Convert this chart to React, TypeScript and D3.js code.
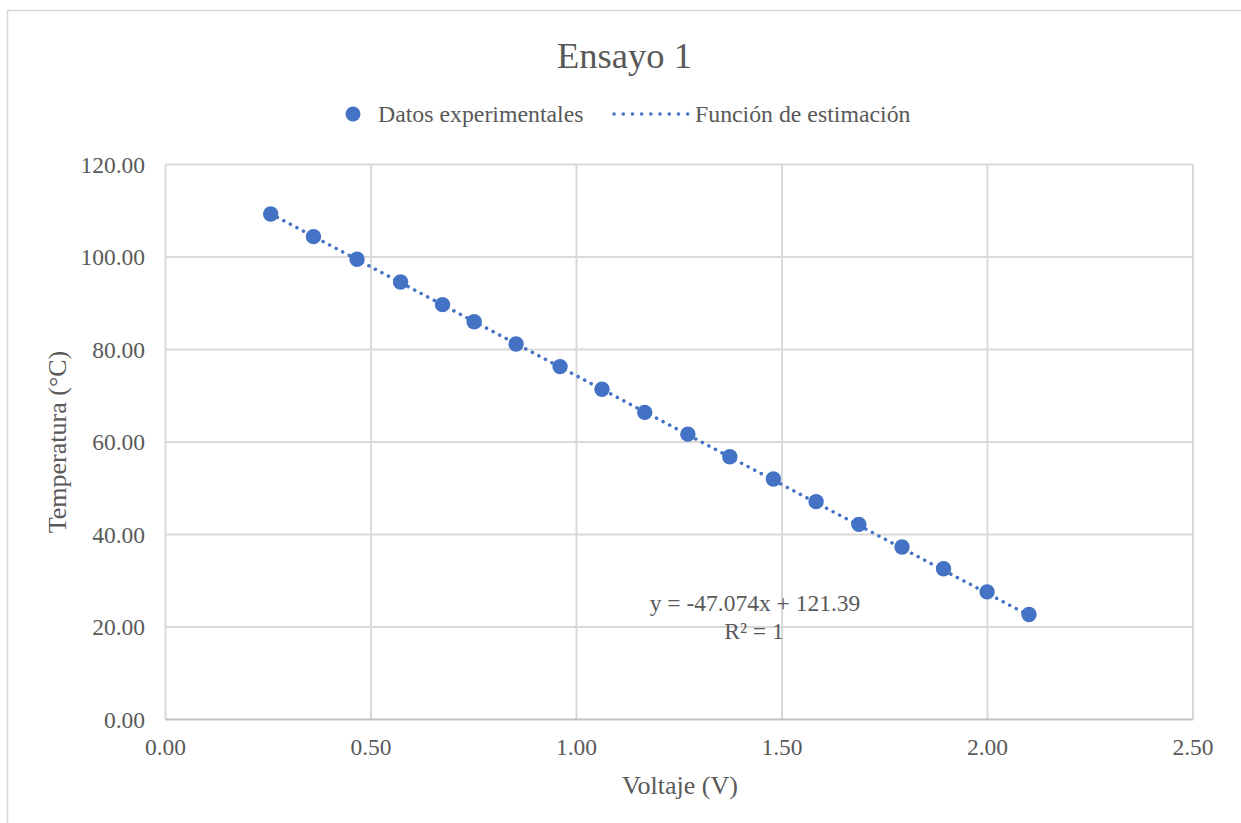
import React from "react";
import * as d3 from "d3";

const voltage = [0.256, 0.36, 0.466, 0.572, 0.674, 0.751, 0.853, 0.96, 1.062, 1.166, 1.271, 1.373, 1.479, 1.583, 1.687, 1.792, 1.893, 1.999, 2.101];
const temperature = [109.3, 104.4, 99.5, 94.6, 89.7, 86.0, 81.2, 76.3, 71.4, 66.4, 61.7, 56.8, 52.0, 47.1, 42.2, 37.3, 32.6, 27.6, 22.7];
const xTicks = [0, 0.5, 1.0, 1.5, 2.0, 2.5];
const yTicks = [0, 20, 40, 60, 80, 100, 120];
const slope = -47.074;
const intercept = 121.39;
const title = "Ensayo 1";
const seriesName = "Datos experimentales";
const trendName = "Función de estimación";
const xTitle = "Voltaje (V)";
const yTitle = "Temperatura (°C)";
const eqText = "y = -47.074x + 121.39";
const r2Text = "R² = 1";

export default function App() {
  const W = 1241, H = 823;
  const left = 165.5, right = 1193, top = 164.5, bottom = 719.5;
  const x = d3.scaleLinear().domain([0, 2.5]).range([left, right]);
  const y = d3.scaleLinear().domain([0, 120]).range([bottom, top]);
  const blue = "#4472C4";
  const grid = "#d9d9d9";
  const txt = "#595959";
  const font = "'Liberation Serif', 'Times New Roman', serif";
  const x0 = d3.min(voltage)!, x1 = d3.max(voltage)!;
  const trend = d3.line<number>().x((v) => x(v)).y((v) => y(slope * v + intercept))([x0, x1]) || "";
  const fmt = d3.format(".2f");
  return (
    <svg width={W} height={H} style={{ position: "absolute", left: 0, top: 0, background: "#fff" }} fontFamily={font}>
      <rect x={7.5} y={10.5} width={1240} height={820} fill="#fff" stroke="#d9d9d9" strokeWidth={1.5} />
      <text x={624.5} y={55} textAnchor="middle" dominantBaseline="central" fontSize={36.5} fill={txt}>{title}</text>
      {/* legend */}
      <circle cx={353} cy={114} r={7.5} fill={blue} />
      <text x={378} y={114} dominantBaseline="central" fontSize={23.8} fill={txt}>{seriesName}</text>
      <line x1={614} x2={688} y1={114} y2={114} stroke={blue} strokeWidth={3.5} strokeLinecap="round" strokeDasharray="0.1 9.1" />
      <text x={695} y={114} dominantBaseline="central" fontSize={23.8} fill={txt}>{trendName}</text>
      {/* grid */}
      {yTicks.filter((t) => t > 0).map((t) => (
        <line key={"gy" + t} x1={left} x2={right} y1={y(t)} y2={y(t)} stroke={grid} strokeWidth={2} />
      ))}
      {xTicks.filter((t) => t > 0).map((t) => (
        <line key={"gx" + t} x1={x(t)} x2={x(t)} y1={top} y2={bottom} stroke={grid} strokeWidth={2} />
      ))}
      <line x1={left} x2={left} y1={top} y2={bottom} stroke={grid} strokeWidth={2} />
      <line x1={left} x2={right} y1={bottom} y2={bottom} stroke="#bfbfbf" strokeWidth={2} />
      {/* tick labels */}
      {yTicks.map((t) => (
        <text key={"ty" + t} x={145} y={y(t)} textAnchor="end" dominantBaseline="central" fontSize={23.5} fill={txt}>{fmt(t)}</text>
      ))}
      {xTicks.map((t) => (
        <text key={"tx" + t} x={x(t)} y={747} textAnchor="middle" dominantBaseline="central" fontSize={23.5} fill={txt}>{fmt(t)}</text>
      ))}
      {/* axis titles */}
      <text x={680} y={785} textAnchor="middle" dominantBaseline="central" fontSize={26} fill={txt}>{xTitle}</text>
      <text transform={`translate(57,${(top + bottom) / 2}) rotate(-90)`} textAnchor="middle" dominantBaseline="central" fontSize={26} fill={txt}>{yTitle}</text>
      {/* trendline */}
      <path d={trend} fill="none" stroke={blue} strokeWidth={3.5} strokeLinecap="round" strokeDasharray="0.1 7.3" />
      {/* points */}
      {voltage.map((v, i) => (
        <circle key={i} cx={x(v)} cy={y(temperature[i])} r={7.7} fill={blue} />
      ))}
      {/* equation */}
      <text x={755} y={603} textAnchor="middle" dominantBaseline="central" fontSize={23.5} fill={txt}>{eqText}</text>
      <text x={754} y={631} textAnchor="middle" dominantBaseline="central" fontSize={23.5} fill={txt}>{r2Text}</text>
    </svg>
  );
}
